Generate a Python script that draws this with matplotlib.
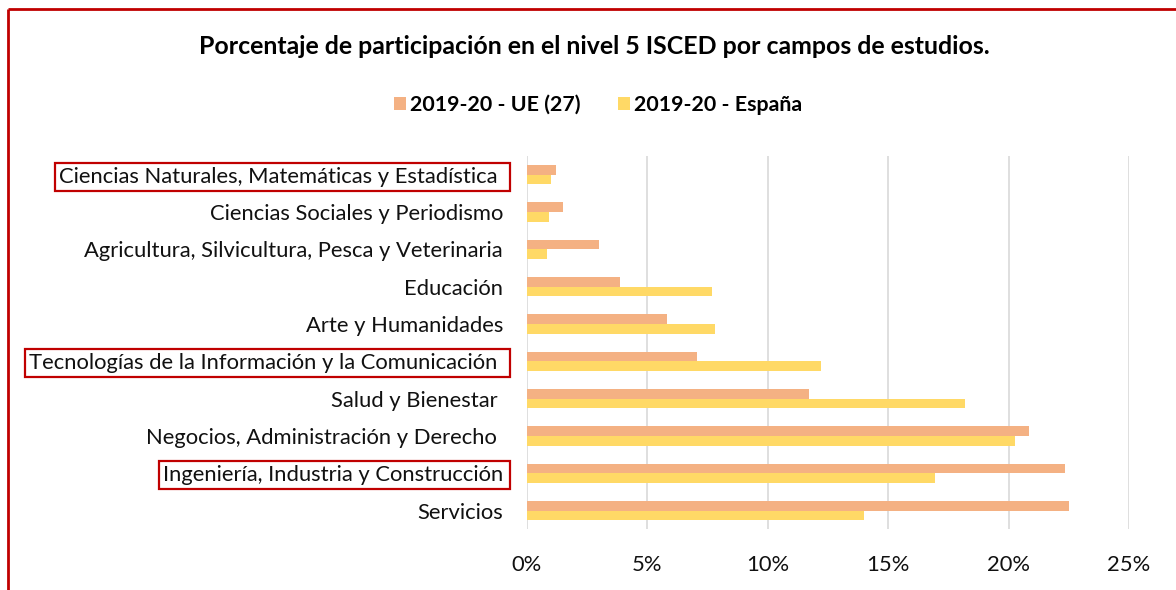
import matplotlib
matplotlib.use("Agg")
import matplotlib.pyplot as plt
from matplotlib.patches import Patch, Rectangle
from matplotlib.lines import Line2D
from matplotlib.ticker import FuncFormatter, MultipleLocator
import numpy as np

# ---------------- data ----------------
categories = [
    "Ciencias Naturales, Matemáticas y Estadística ",
    "Ciencias Sociales y Periodismo",
    "Agricultura, Silvicultura, Pesca y Veterinaria",
    "Educación",
    "Arte y Humanidades",
    "Tecnologías de la Información y la Comunicación ",
    "Salud y Bienestar ",
    "Negocios, Administración y Derecho ",
    "Ingeniería, Industria y Construcción",
    "Servicios",
]
ue27 = [1.2, 1.5, 3.0, 3.85, 5.8, 7.05, 11.7, 20.85, 22.35, 22.5]
espana = [1.0, 0.9, 0.85, 7.7, 7.8, 12.2, 18.2, 20.25, 16.95, 14.0]
highlighted = [0, 5, 8]
series_labels = ["2019-20 - UE (27)", "2019-20 - España"]
title = "Porcentaje de participación en el nivel 5 ISCED por campos de estudios."
xticks = [0, 5, 10, 15, 20, 25]

# ---------------- style ----------------
W, H, DPI = 1176, 590, 100
FONT = "Lato"
C_UE = "#F4B183"
C_ES = "#FFD966"
C_GRID = "#D9D9D9"
C_RED = "#C00000"
C_TXT = "#111111"

fig = plt.figure(figsize=(W / DPI, H / DPI), dpi=DPI)
renderer = fig.canvas.get_renderer()


def fit_size(text, target_px, weight="normal", base=12.0):
    t = fig.text(0, 0, text, fontsize=base, family=FONT, weight=weight)
    w = t.get_window_extent(renderer).width
    t.remove()
    return base * target_px / w


fs_lab = fit_size("Tecnologías de la Información y la Comunicación", 470)
fs_title = fit_size(title, 788, weight="bold")
fs_leg = fit_size(series_labels[0], 170, weight="bold")

# axes placement (pixel-derived)
ax_l, ax_r = 527, 1129
ax_t, ax_b = 156, 529.3
ax = fig.add_axes([ax_l / W, 1 - ax_b / H, (ax_r - ax_l) / W, (ax_b - ax_t) / H])

y = np.arange(len(categories))
h = 0.2625
ax.barh(y - h / 2, ue27, height=h, color=C_UE, zorder=3, label=series_labels[0])
ax.barh(y + h / 2, espana, height=h, color=C_ES, zorder=3, label=series_labels[1])

ax.set_ylim(len(categories) - 0.5, -0.5)
ax.set_xlim(0, 25)
ax.xaxis.set_major_locator(MultipleLocator(5))
ax.set_xticks(xticks)
ax.xaxis.set_major_formatter(FuncFormatter(lambda v, p: f"{v:.0f}%"))
ax.set_yticks(y)
ax.set_yticklabels(categories)
for s in ax.spines.values():
    s.set_visible(False)
ax.grid(axis="x", color=C_GRID, linewidth=1.2, zorder=0)
ax.grid(axis="y", visible=False)
ax.tick_params(axis="y", length=0, pad=17.3, labelsize=fs_lab, labelcolor=C_TXT)
ax.tick_params(axis="x", length=0, pad=18.5, labelsize=fs_lab, labelcolor=C_TXT)
for lab in ax.get_yticklabels() + ax.get_xticklabels():
    lab.set_family(FONT)

# title
fig.text(594 / W, 1 - 47 / H, title, ha="center", va="center", fontsize=fs_title,
         weight="bold", family=FONT, color="#000000")

# legend
sq = 12 * 72 / DPI  # 12 px in points
leg = fig.legend(
    handles=[Patch(facecolor=C_UE), Patch(facecolor=C_ES)],
    labels=series_labels,
    loc="center", bbox_to_anchor=(598 / W, 1 - 105 / H), ncol=2, frameon=False,
    prop={"family": FONT, "weight": "bold", "size": fs_leg},
    handlelength=sq / fs_leg, handleheight=sq / fs_leg,
    handletextpad=(4 * 72 / DPI) / fs_leg,
    columnspacing=(38 * 72 / DPI) / fs_leg,
    borderpad=0, borderaxespad=0,
)
for t in leg.get_texts():
    t.set_color("#000000")

# red boxes around highlighted labels
fig.canvas.draw()
labels = ax.get_yticklabels()
for i in highlighted:
    bb = labels[i].get_window_extent(renderer)
    yc = (bb.y0 + bb.y1) / 2
    x0 = bb.x0 - 4
    x1 = ax_l - 17
    rect = Rectangle((x0, yc - 14), x1 - x0, 28, transform=None, fill=False,
                     edgecolor=C_RED, linewidth=1.6, zorder=10)
    fig.patches.append(rect)

# red frame (top and left)
fig.add_artist(Line2D([8 / W, 1.0], [1 - 9 / H, 1 - 9 / H], transform=fig.transFigure,
                      color=C_RED, linewidth=2.0, solid_capstyle="butt"))
fig.add_artist(Line2D([8 / W, 8 / W], [0, 1 - 9 / H], transform=fig.transFigure,
                      color=C_RED, linewidth=2.0, solid_capstyle="butt"))

fig.savefig("out.png", dpi=DPI)
